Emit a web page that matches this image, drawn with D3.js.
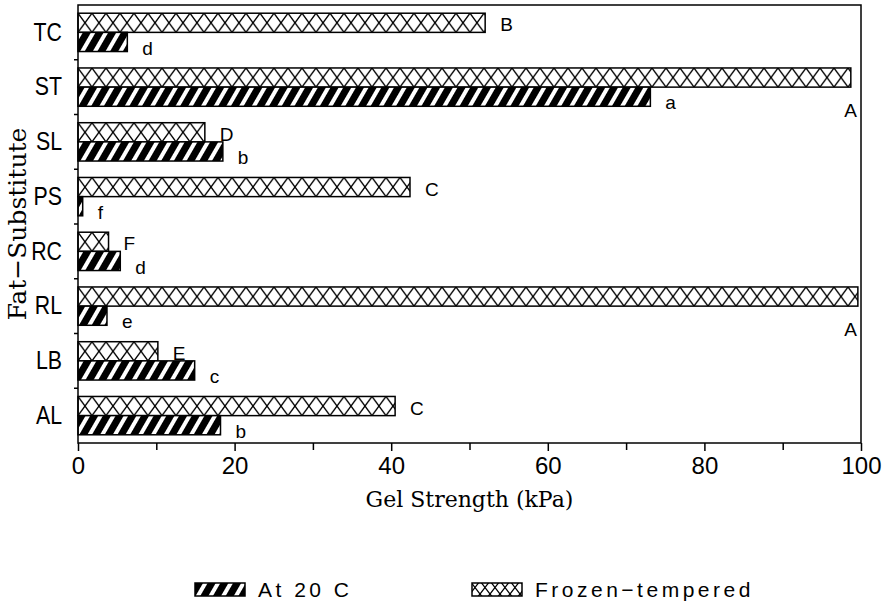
<!DOCTYPE html>
<html>
<head>
<meta charset="utf-8">
<script src="https://cdn.jsdelivr.net/npm/d3@7"></script>
<style>
  html, body { margin: 0; padding: 0; background: #fff; }
  svg { display: block; }
</style>
</head>
<body>
<svg id="chart" width="889" height="615"></svg>
<script>
// ---- data ----
const categories = ["TC", "ST", "SL", "PS", "RC", "RL", "LB", "AL"];
const frozenValues = [52.0, 98.7, 16.2, 42.4, 3.9, 99.6, 10.2, 40.5];
const at20Values   = [6.3, 73.1, 18.5, 0.6, 5.4, 3.7, 14.9, 18.2];
const frozenLetters = ["B", "A", "D", "C", "F", "A", "E", "C"];
const at20Letters   = ["d", "a", "b", "f", "d", "e", "c", "b"];
const seriesKeys = ["frozen", "at20"];
const seriesNames = ["At 20 C", "Frozen\u2212tempered"];
const xTicks = [0, 20, 40, 60, 80, 100];
const xMinorTicks = [10, 30, 50, 70, 90];

// ---- layout ----
const svg = d3.select("#chart");
const M = { left: 78, right: 861, top: 5, bottom: 443 };

const x = d3.scaleLinear().domain([0, 100]).range([M.left, M.right]);
const y = d3.scaleBand().domain(categories).range([M.top, M.bottom])
  .paddingInner(0.3).paddingOuter(0.15);
const ySub = d3.scaleBand().domain(seriesKeys).range([0, y.bandwidth()]).padding(0);
const bh = ySub.bandwidth();

// patterns
const defs = svg.append("defs");
const hatch = defs.append("pattern").attr("id", "hatch")
  .attr("patternUnits", "userSpaceOnUse").attr("width", 11).attr("height", 11)
  .attr("patternTransform", "rotate(30)");
hatch.append("rect").attr("width", 11).attr("height", 11).attr("fill", "#fff");
hatch.append("rect").attr("width", 7).attr("height", 11).attr("fill", "#000");

function crossPattern(id, y0, w, h) {
  const p = defs.append("pattern").attr("id", id)
    .attr("patternUnits", "userSpaceOnUse")
    .attr("x", M.left).attr("y", y0).attr("width", w).attr("height", h);
  p.append("rect").attr("width", w).attr("height", h).attr("fill", "#fff");
  p.append("path")
    .attr("d", `M0,0L${w},${h}M${w},0L0,${h}`)
    .attr("stroke", "#000").attr("stroke-width", 1.3).attr("fill", "none");
}
categories.forEach((c, i) => crossPattern("cross" + i, y(c) + ySub("frozen"), 14, bh));
crossPattern("crossLegend", 583, 10, 13);

function fillFor(d) {
  return d.key === "frozen" ? `url(#cross${categories.indexOf(d.cat)})` : "url(#hatch)";
}

// rows
const rows = categories.map((c, i) => ({
  cat: c,
  frozen: frozenValues[i], at20: at20Values[i],
  frozenL: frozenLetters[i], at20L: at20Letters[i]
}));

const bars = [];
rows.forEach(r => {
  seriesKeys.forEach(k => bars.push({ cat: r.cat, key: k, value: r[k], letter: r[k + "L"] }));
});

svg.append("g").selectAll("rect").data(bars).join("rect")
  .attr("x", x(0))
  .attr("y", d => y(d.cat) + ySub(d.key))
  .attr("width", d => x(d.value) - x(0))
  .attr("height", bh)
  .attr("fill", fillFor)
  .attr("stroke", "#000").attr("stroke-width", 1.5);

// significance letters
svg.append("g").selectAll("text").data(bars).join("text")
  .attr("font-family", "'Liberation Sans', Arial, sans-serif")
  .attr("font-size", 19)
  .attr("fill", "#000")
  .attr("text-anchor", d => d.value > 95 ? "end" : "start")
  .attr("x", d => d.value > 95 ? x(100) - 4 : x(d.value) + 15)
  .attr("y", d => {
    const bottom = y(d.cat) + ySub(d.key) + bh;
    if (d.value > 95) return bottom + 30;
    return d.key === "frozen" ? bottom - 1 : bottom + 3;
  })
  .text(d => d.letter);

// frame
svg.append("rect").attr("x", M.left).attr("y", M.top)
  .attr("width", M.right - M.left).attr("height", M.bottom - M.top)
  .attr("fill", "none").attr("stroke", "#000").attr("stroke-width", 1.5);

// x axis
const xAxis = d3.axisBottom(x).tickValues(xTicks).tickSize(8).tickSizeOuter(0).tickPadding(6)
  .tickFormat(d3.format("d"));
const gx = svg.append("g").attr("transform", `translate(0,${M.bottom})`).call(xAxis);
gx.select(".domain").remove();
gx.selectAll("line").attr("stroke-width", 1.5);
gx.selectAll("text").attr("font-family", "'Liberation Sans', Arial, sans-serif")
  .attr("font-size", 24).attr("fill", "#000");
const gxm = svg.append("g").attr("transform", `translate(0,${M.bottom})`)
  .call(d3.axisBottom(x).tickValues(xMinorTicks).tickSize(7).tickFormat(""));
gxm.select(".domain").remove();
gxm.selectAll("line").attr("stroke-width", 1.5);

// y axis (labels horizontally condensed like the original plotter font)
const labelScale = 0.82;
const yAxis = d3.axisLeft(y).tickSize(0).tickPadding(16);
const gy = svg.append("g").attr("transform", `translate(${M.left},0)`).call(yAxis);
gy.select(".domain").remove();
gy.selectAll("text")
  .attr("x", -16 / labelScale)
  .attr("transform", `scale(${labelScale},1)`)
  .attr("font-family", "'Liberation Sans', Arial, sans-serif")
  .attr("font-size", 26).attr("fill", "#000");
// ticks at category boundaries
const boundaries = categories.slice(1).map(c => y(c) - y.step() * y.paddingInner() / 2);
svg.append("g").selectAll("line").data(boundaries).join("line")
  .attr("x1", M.left - 4).attr("x2", M.left)
  .attr("y1", d => d).attr("y2", d => d)
  .attr("stroke", "#000").attr("stroke-width", 1.5);

// axis titles
svg.append("text")
  .attr("x", (M.left + M.right) / 2).attr("y", 507)
  .attr("text-anchor", "middle")
  .attr("font-family", "'DejaVu Serif', 'Liberation Serif', serif")
  .attr("font-size", 22).attr("fill", "#000")
  .text("Gel Strength (kPa)");

svg.append("text")
  .attr("transform", `translate(26,${(M.top + M.bottom) / 2}) rotate(-90)`)
  .attr("text-anchor", "middle")
  .attr("font-family", "'DejaVu Serif', 'Liberation Serif', serif")
  .attr("font-size", 25).attr("fill", "#000")
  .text("Fat\u2212Substitute");

// legend
const legendItems = [
  { name: seriesNames[0], fill: "url(#hatch)", x: 195 },
  { name: seriesNames[1], fill: "url(#crossLegend)", x: 472 }
];
const lg = svg.append("g").selectAll("g").data(legendItems).join("g")
  .attr("transform", d => `translate(${d.x},583)`);
lg.append("rect").attr("width", 50).attr("height", 13)
  .attr("fill", d => d.fill).attr("stroke", "#000").attr("stroke-width", 1.5);
lg.append("text").attr("x", 63).attr("y", 14)
  .attr("font-family", "'Liberation Sans', Arial, sans-serif")
  .attr("font-size", 21).attr("letter-spacing", 3.5).attr("fill", "#000")
  .text(d => d.name);
</script>
</body>
</html>
